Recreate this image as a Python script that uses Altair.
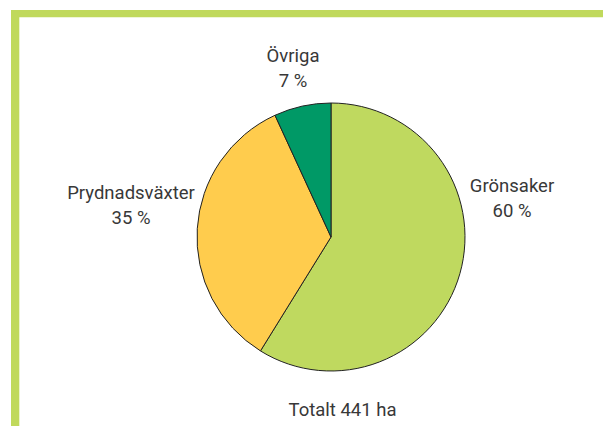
import altair as alt
import pandas as pd

# Data
categories = ["Grönsaker", "Prydnadsväxter", "Övriga"]
values = [60, 35, 7]
colors = ["#bfd95f", "#ffcc4d", "#009966"]
total_ha = 441

df = pd.DataFrame({
    "kategori": categories,
    "andel": values,
    "ordning": list(range(len(categories))),
    "etikett": [f"{c}\n{v} %" for c, v in zip(categories, values)],
})

FONT = "Roboto, sans-serif"
FS = 18.5
TXT = "#383838"
W, H = 595, 418
CX, CY, R = 323, 229, 134

one = pd.DataFrame({"d": [0]})

top_bar = alt.Chart(one).mark_rect(color="#c0d95c").encode(
    x=alt.value(3), x2=alt.value(W), y=alt.value(2), y2=alt.value(9.3)
)
left_bar = alt.Chart(one).mark_rect(color="#c0d95c").encode(
    x=alt.value(3), x2=alt.value(11.3), y=alt.value(2), y2=alt.value(H)
)

pie = alt.Chart(df).mark_arc(outerRadius=R, stroke="#222222", strokeWidth=1).encode(
    theta=alt.Theta("andel:Q", stack=True),
    color=alt.Color("kategori:N", scale=alt.Scale(domain=categories, range=colors), legend=None),
    order=alt.Order("ordning:Q"),
    x=alt.value(CX),
    y=alt.value(CY),
)

label_pos = {"Grönsaker": (504, 184.3), "Prydnadsväxter": (123, 191.3), "Övriga": (285, 53.7)}
labels = []
for cat in categories:
    px, py = label_pos[cat]
    labels.append(
        alt.Chart(df).transform_filter(alt.datum.kategori == cat).mark_text(
            lineBreak="\n", font=FONT, fontSize=FS, color=TXT, align="center",
            baseline="alphabetic", lineHeight=25,
        ).encode(text="etikett:N", x=alt.value(px), y=alt.value(py))
    )

total = alt.Chart(pd.DataFrame({"t": [f"Totalt {total_ha} ha"]})).mark_text(
    font=FONT, fontSize=FS, color=TXT, align="center", baseline="alphabetic"
).encode(text="t:N", x=alt.value(334.5), y=alt.value(408))

chart = alt.layer(top_bar, left_bar, pie, *labels, total).properties(
    width=W, height=H, autosize=alt.AutoSizeParams(type="none"), padding=0,
    background="white",
).configure_view(stroke=None)

chart.save("out.html", embed_options={"renderer": "svg", "actions": False})
